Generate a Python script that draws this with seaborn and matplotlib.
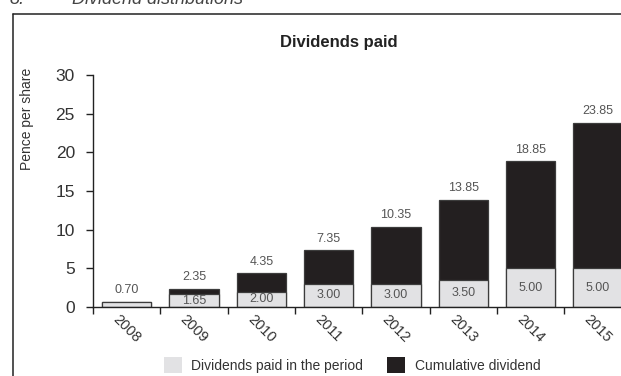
import matplotlib
matplotlib.use("Agg")
import matplotlib.pyplot as plt
from matplotlib.lines import Line2D
import seaborn as sns

years = ["2008", "2009", "2010", "2011", "2012", "2013", "2014", "2015"]
period = [0.70, 1.65, 2.00, 3.00, 3.00, 3.50, 5.00, 5.00]
cumulative = [0.70, 2.35, 4.35, 7.35, 10.35, 13.85, 18.85, 23.85]
period_labels = ["", "1.65", "2.00", "3.00", "3.00", "3.50", "5.00", "5.00"]
cum_labels = ["0.70", "2.35", "4.35", "7.35", "10.35", "13.85", "18.85", "23.85"]
yticks = [0, 5, 10, 15, 20, 25, 30]

sns.set_theme(style="white")
plt.rcParams["font.family"] = ["Liberation Sans", "DejaVu Sans"]

GRAY = "#e2e2e4"
BLACK = "#231f20"
EDGE = "#3c3c3c"
TXT = "#333333"

fig = plt.figure(figsize=(6.21, 3.76), dpi=100)
ax = fig.add_axes([93 / 621, 1 - 307 / 376, 538.6 / 621, 232 / 376])

sns.barplot(x=years, y=cumulative, color=BLACK, saturation=1, width=0.73,
            edgecolor=EDGE, linewidth=0.9, ax=ax)
sns.barplot(x=years, y=period, color=GRAY, saturation=1, width=0.73,
            edgecolor=EDGE, linewidth=0.9, ax=ax)

black_bars = ax.containers[0]
gray_bars = ax.containers[1]

ax.bar_label(black_bars, labels=cum_labels, padding=4, fontsize=9, color="#555555")
ax.bar_label(gray_bars, labels=period_labels, label_type="center", fontsize=9, color="#555555")

ax.set_xlim(-0.5, len(years) - 0.5)
ax.set_ylim(0, 30)
ax.set_yticks(yticks)
ax.set_yticklabels([str(t) for t in yticks], fontsize=12.5, color=TXT)

# boundaries as major ticks, labels on minor ticks at centres
ax.set_xticks([i - 0.5 for i in range(len(years) + 1)])
ax.set_xticklabels([""] * (len(years) + 1))
ax.set_xticks(range(len(years)), minor=True)
ax.set_xticklabels(years, minor=True, rotation=-45, ha="center", va="top",
                   fontsize=10.5, color=TXT)
ax.tick_params(axis="x", which="major", direction="out", length=5, width=1, color="#222222", bottom=True)
ax.tick_params(axis="x", which="minor", length=0, pad=4)
ax.tick_params(axis="y", direction="out", length=5, width=1, color="#222222", left=True, pad=8)

for s in ["top", "right"]:
    ax.spines[s].set_visible(False)
for s in ["left", "bottom"]:
    ax.spines[s].set_color("#222222")
    ax.spines[s].set_linewidth(1.0)
ax.set_xlabel("")
ax.set_ylabel("")
ax.grid(False)

fig.text(27 / 621, 1 - 118.5 / 376, "Pence per share", rotation=90, ha="center",
         va="center", fontsize=10, color=TXT)
fig.text(339 / 621, 1 - 42 / 376, "Dividends paid", ha="center", va="center",
         fontsize=12, fontweight="bold", color="#222222")

# header (cut off at top, as in the reference)
fig.text(10 / 621, 1 - 4 / 376, "8.", ha="left", va="baseline", fontsize=13,
         fontstyle="italic", color="#444444")
fig.text(72 / 621, 1 - 4 / 376, "Dividend distributions", ha="left", va="baseline",
         fontsize=13, fontstyle="italic", color="#444444")

# outer frame (left and top edges visible)
fig.add_artist(Line2D([13 / 621, 13 / 621], [-0.05, 1 - 14 / 376], transform=fig.transFigure,
                      color="#222222", linewidth=1.1))
fig.add_artist(Line2D([13 / 621, 1.05], [1 - 14 / 376, 1 - 14 / 376], transform=fig.transFigure,
                      color="#222222", linewidth=1.1))

fig.legend([gray_bars.patches[0], black_bars.patches[1]],
           ["Dividends paid in the period", "Cumulative dividend"],
           loc="center", bbox_to_anchor=(352 / 621, 1 - 365 / 376), ncol=2, frameon=False,
           fontsize=10, handlelength=1.3, handleheight=1.3, handletextpad=0.7,
           columnspacing=1.7, labelcolor=TXT)
leg = fig.legends[0]
for h in leg.legend_handles:
    h.set_edgecolor("none")

fig.savefig("out.png", dpi=100)
